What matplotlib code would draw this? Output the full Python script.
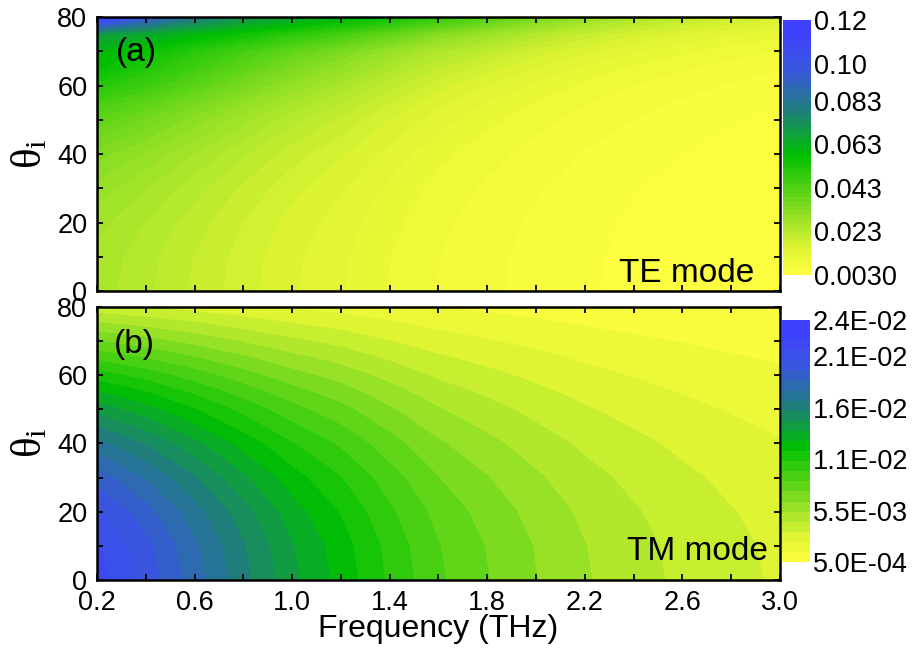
import numpy as np
import matplotlib
matplotlib.use('Agg')
import matplotlib.pyplot as plt
from matplotlib.colors import LinearSegmentedColormap

plt.rcParams['font.family'] = 'Liberation Sans'

# frequency (THz) columns and incidence angle (deg) rows
freq = [0.2, 0.4, 0.6, 0.8, 1.0, 1.2, 1.4, 1.6, 1.8, 2.0, 2.2, 2.4, 2.6, 2.8, 3.0]
theta = [0, 10, 20, 30, 40, 50, 55, 60, 65, 70, 75, 80]

# absorption, TE mode (panel a)
te_abs = [
    [0.02580, 0.02325, 0.02042, 0.01767, 0.01512, 0.01309, 0.01081, 0.00884, 0.00740, 0.00621, 0.00523, 0.00446, 0.00386, 0.00337, 0.00300],
    [0.02620, 0.02360, 0.02073, 0.01794, 0.01536, 0.01329, 0.01098, 0.00898, 0.00751, 0.00631, 0.00530, 0.00453, 0.00392, 0.00342, 0.00305],
    [0.02746, 0.02473, 0.02173, 0.01881, 0.01609, 0.01393, 0.01150, 0.00941, 0.00788, 0.00661, 0.00556, 0.00475, 0.00411, 0.00359, 0.00319],
    [0.02980, 0.02685, 0.02357, 0.02041, 0.01746, 0.01511, 0.01248, 0.01020, 0.00854, 0.00717, 0.00603, 0.00515, 0.00446, 0.00389, 0.00347],
    [0.03368, 0.03035, 0.02666, 0.02306, 0.01973, 0.01708, 0.01410, 0.01154, 0.00966, 0.00810, 0.00682, 0.00583, 0.00504, 0.00440, 0.00392],
    [0.04014, 0.03617, 0.03176, 0.02749, 0.02352, 0.02036, 0.01681, 0.01375, 0.01151, 0.00966, 0.00813, 0.00695, 0.00601, 0.00524, 0.00467],
    [0.04498, 0.04052, 0.03559, 0.03080, 0.02636, 0.02283, 0.01884, 0.01541, 0.01290, 0.01083, 0.00911, 0.00778, 0.00673, 0.00587, 0.00523],
    [0.05160, 0.04649, 0.04083, 0.03534, 0.03024, 0.02618, 0.02161, 0.01768, 0.01480, 0.01242, 0.01045, 0.00893, 0.00773, 0.00673, 0.00601],
    [0.05697, 0.05174, 0.04582, 0.03998, 0.03450, 0.03013, 0.02510, 0.02071, 0.01751, 0.01469, 0.01236, 0.01056, 0.00914, 0.00796, 0.00711],
    [0.06000, 0.05600, 0.05050, 0.04500, 0.03950, 0.03480, 0.02950, 0.02485, 0.02164, 0.01815, 0.01528, 0.01305, 0.01130, 0.00985, 0.00878],
    [0.06900, 0.06500, 0.06000, 0.05500, 0.05000, 0.04500, 0.03900, 0.03280, 0.02860, 0.02396, 0.02024, 0.01730, 0.01490, 0.01301, 0.01165],
    [0.11900, 0.09600, 0.08100, 0.07200, 0.06600, 0.06100, 0.05600, 0.04900, 0.04260, 0.03579, 0.03012, 0.02567, 0.02226, 0.01938, 0.01729],
]

# absorption, TM mode (panel b)
tm_abs = [
    [0.02150, 0.01970, 0.01760, 0.01550, 0.01350, 0.01190, 0.01010, 0.00850, 0.00740, 0.00640, 0.00550, 0.00480, 0.00420, 0.00370, 0.00330],
    [0.02117, 0.01940, 0.01733, 0.01526, 0.01329, 0.01172, 0.00995, 0.00837, 0.00729, 0.00630, 0.00542, 0.00473, 0.00414, 0.00364, 0.00325],
    [0.02020, 0.01851, 0.01654, 0.01457, 0.01269, 0.01118, 0.00949, 0.00799, 0.00695, 0.00601, 0.00517, 0.00451, 0.00395, 0.00348, 0.00310],
    [0.01862, 0.01706, 0.01524, 0.01342, 0.01169, 0.01031, 0.00875, 0.00736, 0.00641, 0.00554, 0.00476, 0.00416, 0.00364, 0.00320, 0.00286],
    [0.01647, 0.01509, 0.01348, 0.01187, 0.01034, 0.00912, 0.00774, 0.00651, 0.00567, 0.00490, 0.00421, 0.00368, 0.00322, 0.00283, 0.00253],
    [0.01382, 0.01266, 0.01131, 0.00996, 0.00868, 0.00765, 0.00649, 0.00546, 0.00476, 0.00411, 0.00354, 0.00309, 0.00270, 0.00238, 0.00212],
    [0.01233, 0.01130, 0.01010, 0.00889, 0.00774, 0.00683, 0.00579, 0.00488, 0.00424, 0.00367, 0.00315, 0.00275, 0.00241, 0.00212, 0.00189],
    [0.01075, 0.00985, 0.00880, 0.00775, 0.00675, 0.00595, 0.00505, 0.00425, 0.00370, 0.00320, 0.00275, 0.00240, 0.00210, 0.00185, 0.00165],
    [0.00909, 0.00833, 0.00744, 0.00655, 0.00571, 0.00503, 0.00427, 0.00359, 0.00313, 0.00270, 0.00232, 0.00203, 0.00177, 0.00156, 0.00139],
    [0.00735, 0.00674, 0.00602, 0.00530, 0.00462, 0.00407, 0.00345, 0.00291, 0.00253, 0.00219, 0.00188, 0.00164, 0.00144, 0.00127, 0.00113],
    [0.00556, 0.00510, 0.00455, 0.00401, 0.00349, 0.00308, 0.00261, 0.00220, 0.00192, 0.00166, 0.00142, 0.00124, 0.00109, 0.00096, 0.00085],
    [0.00373, 0.00342, 0.00306, 0.00269, 0.00234, 0.00207, 0.00175, 0.00148, 0.00128, 0.00111, 0.00095, 0.00083, 0.00073, 0.00064, 0.00057],
]

xtick_vals = [0.2, 0.6, 1.0, 1.4, 1.8, 2.2, 2.6, 3.0]
xtick_labels = ['0.2', '0.6', '1.0', '1.4', '1.8', '2.2', '2.6', '3.0']
te_ticks = [0.003, 0.023, 0.043, 0.063, 0.083, 0.10, 0.12]
te_tick_labels = ['0.0030', '0.023', '0.043', '0.063', '0.083', '0.10', '0.12']
tm_ticks = [0.0005, 0.0055, 0.0105, 0.0155, 0.0205, 0.024]
tm_tick_labels = ['5.0E-04', '5.5E-03', '1.1E-02', '1.6E-02', '2.1E-02', '2.4E-02']

cmap = LinearSegmentedColormap.from_list(
    'ygb', [(0.0, '#ffff40'), (0.1, '#e0f534'), (0.2, '#a8e52a'),
            (0.47, '#00c000'), (0.64, '#1e8078'), (0.8, '#3858dc'),
            (0.95, '#4040ff'), (1.0, '#4040ff')])

fig = plt.figure(figsize=(9.15, 6.64), dpi=100)
ax_a = fig.add_axes([0.1060, 0.5617, 0.7464, 0.4127])
ax_b = fig.add_axes([0.1060, 0.1265, 0.7464, 0.4112])
cax_a = fig.add_axes([0.8557, 0.5858, 0.0306, 0.3840])
cax_b = fig.add_axes([0.8546, 0.1536, 0.0306, 0.3645])

te_levels = np.linspace(0.003, 0.12, 60)
tm_levels = np.linspace(0.0005, 0.024, 25)

cs_a = ax_a.contourf(freq, theta, te_abs, levels=te_levels, cmap=cmap, extend='min')
cs_b = ax_b.contourf(freq, theta, tm_abs, levels=tm_levels, cmap=cmap)

for ax in (ax_a, ax_b):
    ax.set_xlim(0.2, 3.0)
    ax.set_ylim(0, 80)
    ax.set_xticks(xtick_vals)
    ax.set_xticks(np.arange(0.2, 3.01, 0.2), minor=True)
    ax.set_yticks([0, 20, 40, 60, 80])
    ax.set_yticks(np.arange(0, 81, 10), minor=True)
    ax.tick_params(which='both', direction='in', top=True, right=True,
                   length=4.5, width=1.3, labelsize=19.5, pad=7)
    for s in ax.spines.values():
        s.set_linewidth(1.8)
    ax.set_xticklabels(xtick_labels)

ax_a.tick_params(labelbottom=False)
ax_b.set_xlabel('Frequency (THz)', fontsize=23, labelpad=-1)

for ax, y in ((ax_a, 154), (ax_b, 443)):
    fig.text(30 / 915, 1 - y / 664, r'$\mathregular{θ_i}$', rotation=90,
             fontsize=31, family='Liberation Serif', ha='center', va='center')

ax_a.text(0.028, 0.872, '(a)', transform=ax_a.transAxes, fontsize=24,
          ha='left', va='center')
ax_a.text(0.963, 0.033, 'TE mode', transform=ax_a.transAxes, fontsize=24,
          ha='right', va='baseline')
ax_b.text(0.025, 0.864, '(b)', transform=ax_b.transAxes, fontsize=24,
          ha='left', va='center')
ax_b.text(0.982, 0.073, 'TM mode', transform=ax_b.transAxes, fontsize=24,
          ha='right', va='baseline')

for cs, cax, ticks, labels in ((cs_a, cax_a, te_ticks, te_tick_labels),
                               (cs_b, cax_b, tm_ticks, tm_tick_labels)):
    cb = fig.colorbar(cs, cax=cax, ticks=ticks, extendfrac=0)
    cb.ax.set_yticklabels(labels)
    cb.outline.set_visible(False)
    cb.ax.tick_params(length=0, labelsize=19.5, pad=2)

fig.savefig('out.png', dpi=100)
